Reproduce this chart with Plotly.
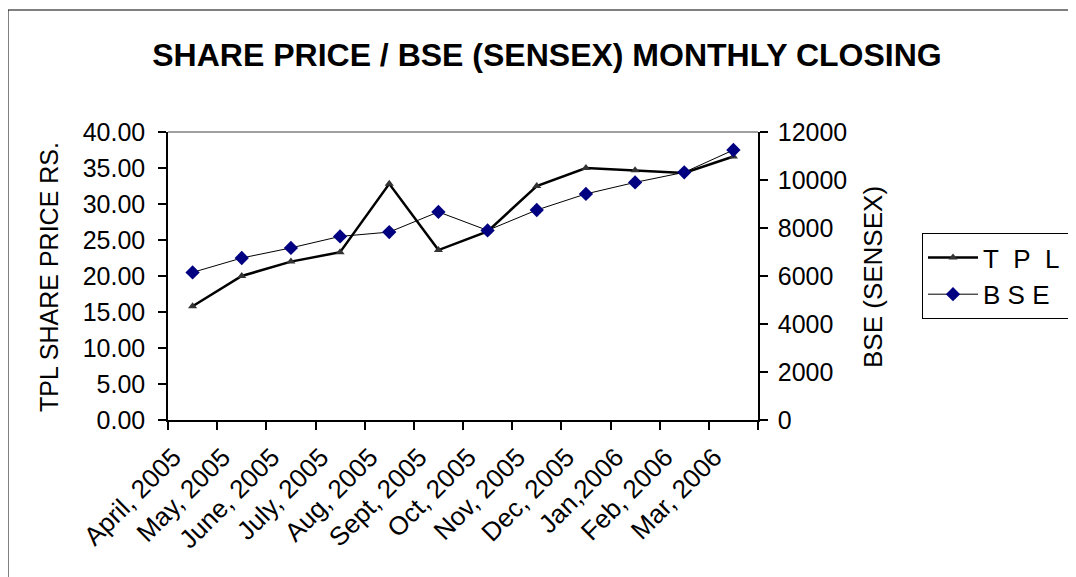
import plotly.graph_objects as go

# ---- data ----
months = ["April, 2005", "May, 2005", "June, 2005", "July, 2005", "Aug, 2005",
          "Sept, 2005", "Oct, 2005", "Nov, 2005", "Dec, 2005", "Jan,2006",
          "Feb, 2006", "Mar, 2006"]
tpl_price = [15.8, 20.0, 22.0, 23.3, 32.8, 23.6, 26.2, 32.5, 35.0, 34.7, 34.3, 36.6]
bse_sensex = [6150, 6750, 7170, 7650, 7830, 8670, 7900, 8750, 9420, 9900, 10320, 11250]
left_ticks = [0, 5, 10, 15, 20, 25, 30, 35, 40]
left_tick_text = ["%.2f" % v for v in left_ticks]
right_ticks = [0, 2000, 4000, 6000, 8000, 10000, 12000]
right_tick_text = [str(v) for v in right_ticks]
NB = "\u00a0"
series_names = ["T" + NB * 2 + "P" + NB * 2 + "L" + NB, "B S E" + NB]

FONT = "Arial, Liberation Sans, sans-serif"
# browser body margin offset (8px) compensation
OFF = 8
L, T, PW, PH = 168 - OFF, 132 - OFF, 590, 288

fig = go.Figure()
fig.add_trace(go.Scatter(
    x=months, y=tpl_price, name=series_names[0], mode="lines+markers",
    line=dict(color="#000000", width=2.5),
    marker=dict(symbol="triangle-up", size=8, color="#333333"),
    legendgroup="a", yaxis="y"))
fig.add_trace(go.Scatter(
    x=months, y=bse_sensex, name=series_names[1], mode="lines+markers",
    line=dict(color="#000000", width=1),
    marker=dict(symbol="diamond", size=11, color="#000080"),
    legendgroup="b", yaxis="y2"))

common = dict(tickwidth=1.5, tickcolor="#000000", showgrid=False, zeroline=False,
              automargin=False)

fig.update_layout(
    width=1076, height=577,
    margin=dict(l=L, r=1076 - L - PW, t=T, b=577 - T - PH, autoexpand=False),
    paper_bgcolor="white", plot_bgcolor="white",
    font=dict(family=FONT, color="#000000"),
    title=dict(text="<b>SHARE PRICE / BSE (SENSEX) MONTHLY CLOSING</b>",
               x=(547 - OFF) / 1076, xanchor="center", y=1 - (55 - OFF) / 577,
               yanchor="middle", font=dict(family=FONT, size=32, color="#000000")),
    xaxis=dict(type="category", range=[-0.5, 11.5], tickson="boundaries",
               ticks="outside", ticklen=8, showline=True, linecolor="#000000",
               linewidth=1.5, tickangle=-45, ticklabelstandoff=10, ticklabelshift=-19,
               tickfont=dict(family=FONT, size=26, color="#000000"), **common),
    yaxis=dict(range=[0, 40], tickvals=left_ticks, ticktext=left_tick_text,
               ticks="outside", ticklen=8, showline=True, linecolor="#000000",
               linewidth=1.5, tickfont=dict(family=FONT, size=25, color="#000000"),
               ticklabelstandoff=8, **common),
    yaxis2=dict(range=[0, 12000], tickvals=right_ticks, ticktext=right_tick_text,
                overlaying="y", side="right", ticks="outside", ticklen=8,
                showline=True, linecolor="#000000", linewidth=1.5,
                tickfont=dict(family=FONT, size=25, color="#000000"),
                ticklabelstandoff=5, **common),
    # inner halves of the crossing tick marks
    xaxis2=dict(overlaying="x", anchor="y", range=[-0.5, 11.5],
                tickvals=[i - 0.5 for i in range(13)], ticks="inside", ticklen=7,
                showticklabels=False, showline=False, **common),
    yaxis3=dict(overlaying="y", anchor="x", side="left", range=[0, 40],
                tickvals=left_ticks, ticks="inside", ticklen=7,
                showticklabels=False, showline=False, **common),
    yaxis4=dict(overlaying="y", anchor="x", side="right", range=[0, 12000],
                tickvals=right_ticks, ticks="inside", ticklen=7,
                showticklabels=False, showline=False, **common),
    legend=dict(x=(922 - 168) / PW, xanchor="left", y=(420 - 233) / PH, yanchor="top",
                bordercolor="#000000", borderwidth=1, bgcolor="white",
                font=dict(family=FONT, size=26, color="#000000"),
                tracegroupgap=6, traceorder="normal", itemwidth=50),
    showlegend=True,
)

fig.add_annotation(text="TPL SHARE PRICE RS.", xref="paper", yref="paper",
                   x=(49 - 168) / PW, y=(420 - 277) / PH, textangle=-90,
                   xanchor="center", yanchor="middle", showarrow=False,
                   font=dict(family=FONT, size=25, color="#000000"))
fig.add_annotation(text="BSE (SENSEX)", xref="paper", yref="paper",
                   x=(873 - 168) / PW, y=(420 - 277) / PH, textangle=-90,
                   xanchor="center", yanchor="middle", showarrow=False,
                   font=dict(family=FONT, size=26, color="#000000"))

# plot-area top border (grey) and outer chart frame
fig.add_shape(type="line", xref="paper", yref="paper", x0=0, x1=1, y0=1, y1=1,
              line=dict(color="#808080", width=1.5))
fig.add_shape(type="rect", xref="paper", yref="paper",
              x0=(8 - 168) / PW, x1=2.0, y0=-1.0, y1=(420 - 10) / PH,
              line=dict(color="#000000", width=1), layer="below")

fig.write_html("out.html")
